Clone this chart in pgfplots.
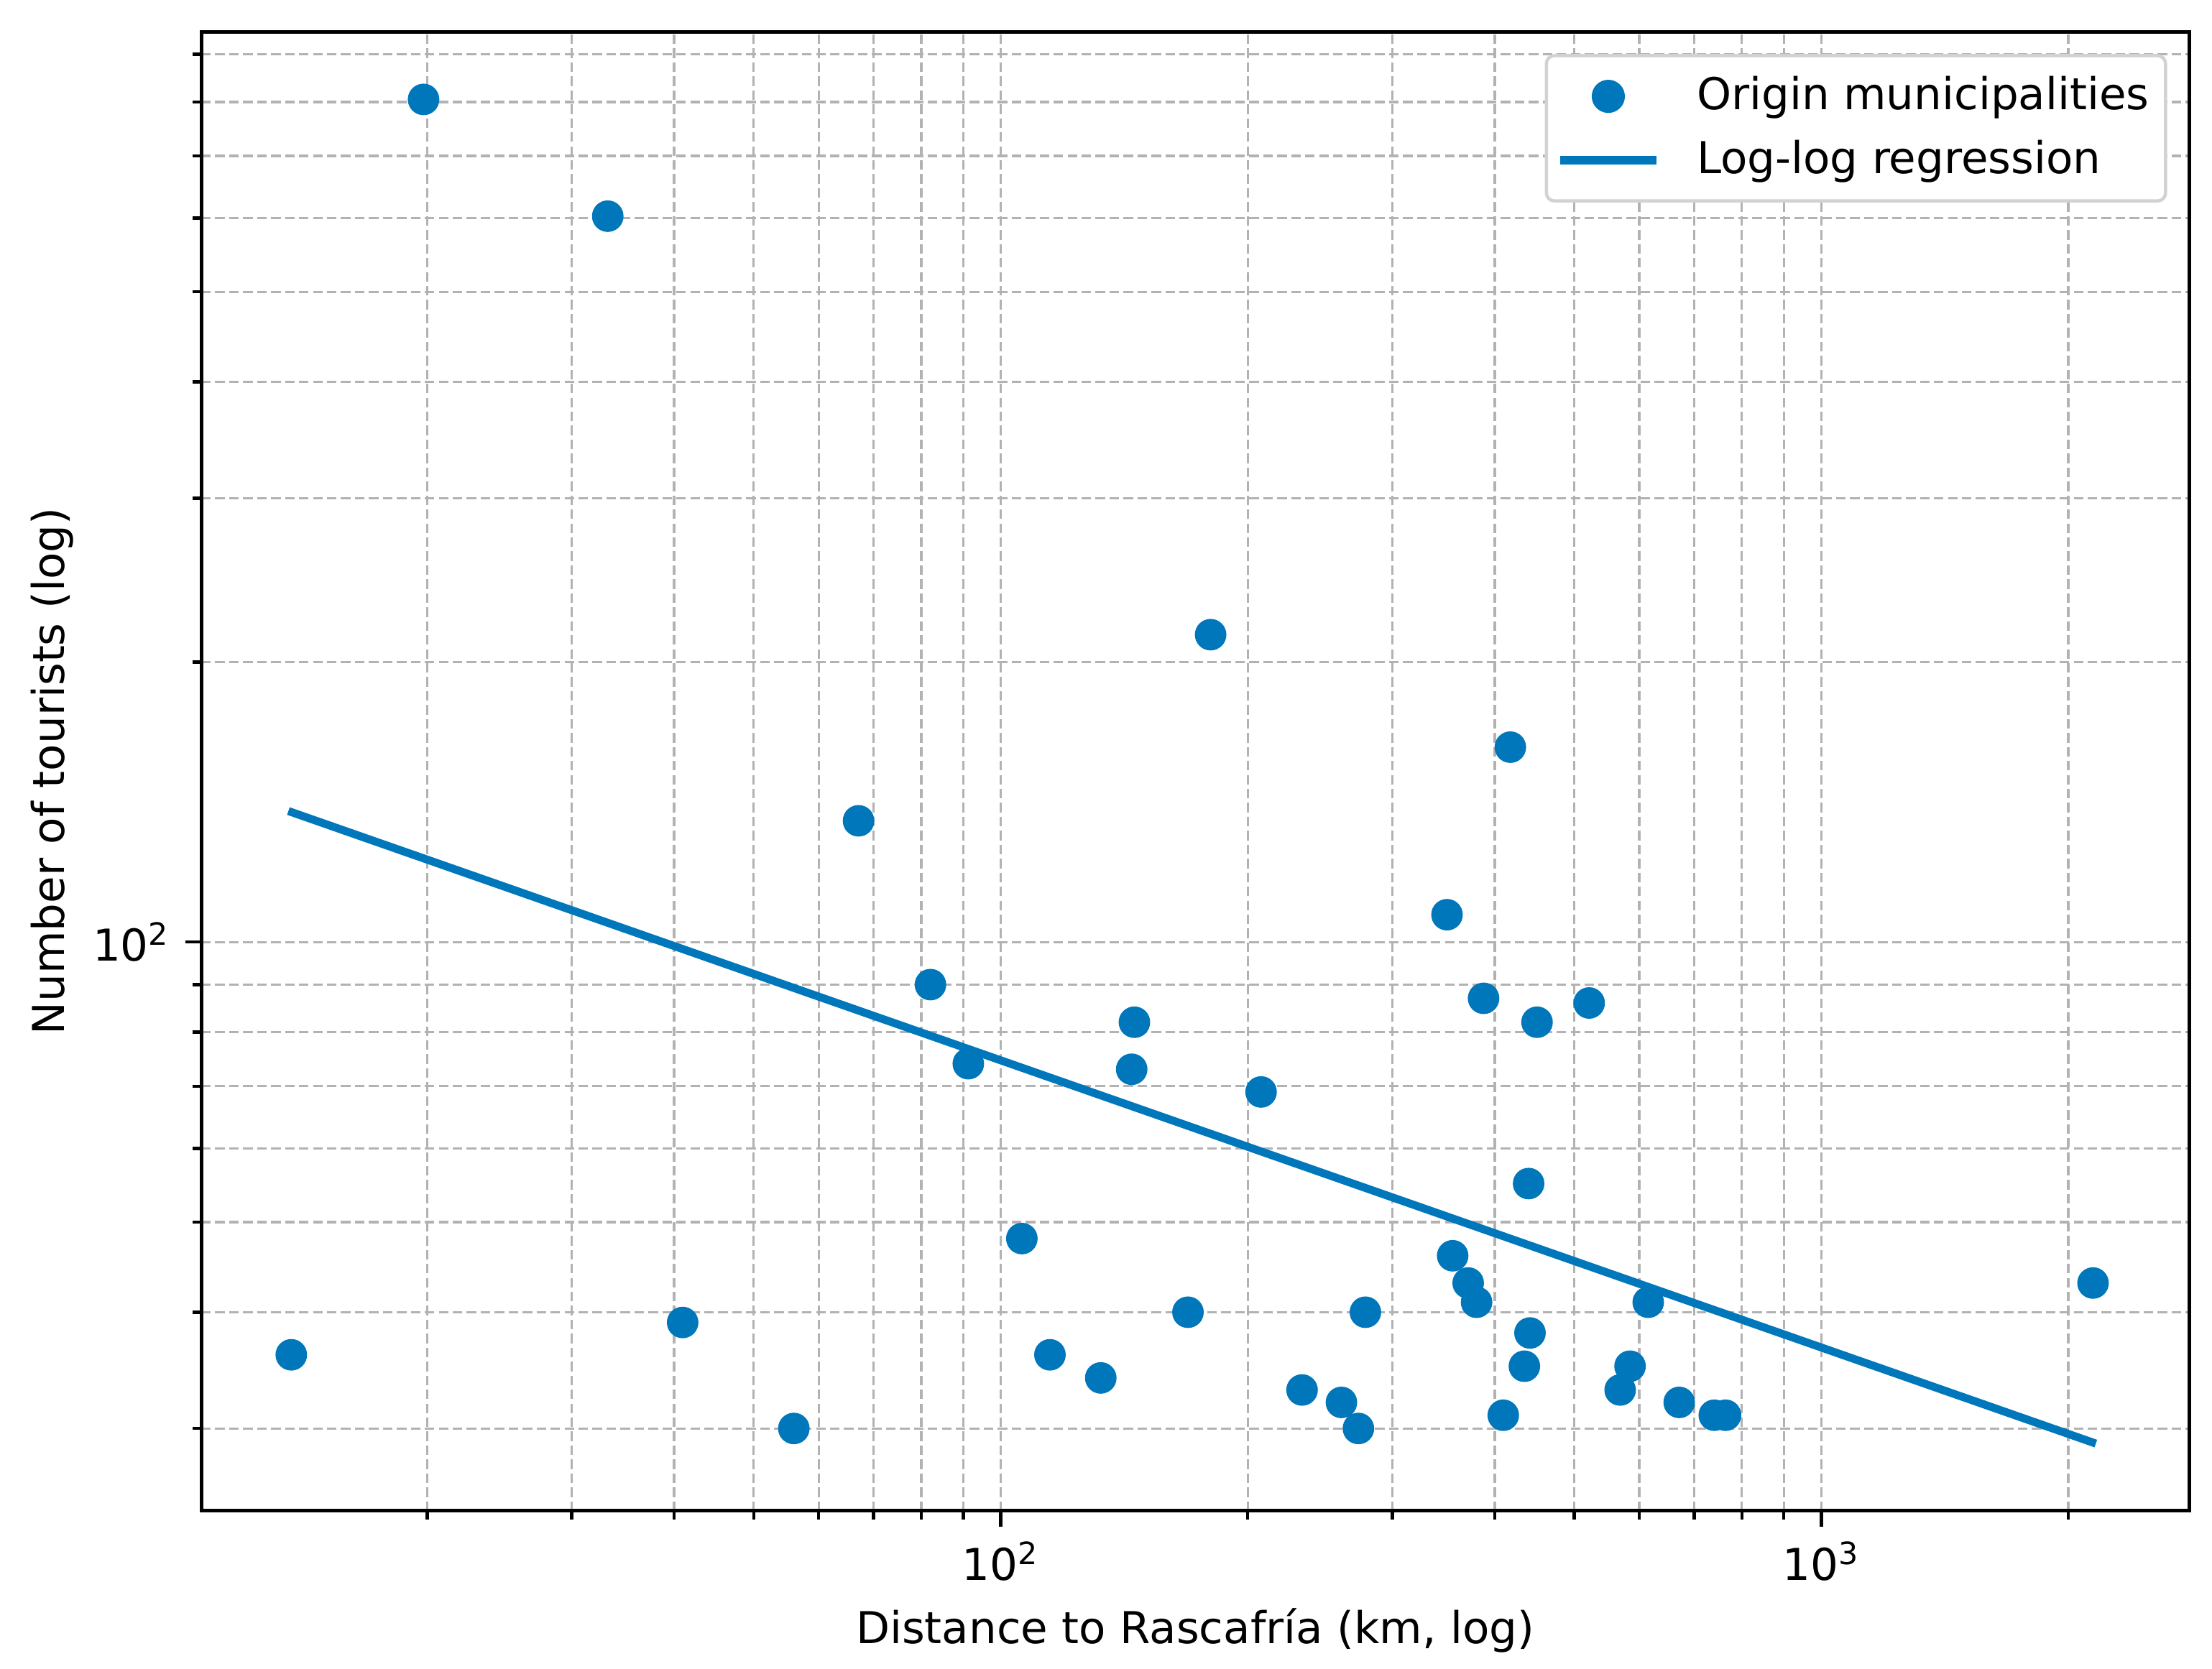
\documentclass[border=0pt]{standalone}
\usepackage{fontspec}
\setmainfont{DejaVu Sans}
\usepackage{pgfplots}
\pgfplotsset{compat=1.18}
\definecolor{ptblue}{RGB}{0,119,187}
\begin{document}
\fontsize{11}{13}\selectfont
\begin{tikzpicture}
\begin{axis}[
  name=ax,
  scale only axis,
  width=497.9pt, height=370.6pt,
  xmode=log, ymode=log,
  xmin=10.61, xmax=2806,
  ymin=24.46, ymax=952,
  xtick={100,1000},
  xticklabels={10\textsuperscript{2},10\textsuperscript{3}},
  ytick={100},
  yticklabels={10\textsuperscript{2}},
  minor xtick={20,30,40,50,60,70,80,90,200,300,400,500,600,700,800,900,2000},
  minor ytick={30,40,50,60,70,80,90,200,300,400,500,600,700,800,900},
  xtick pos=bottom, ytick pos=left,
  tick align=outside,
  major tick length=3.9pt,
  minor tick length=2.1pt,
  every tick/.style={black, line width=0.8pt},
  axis line style={line width=0.9pt},
  grid=both,
  major grid style={gray!60, line width=0.6pt, dash pattern=on 2.4pt off 1.1pt},
  minor grid style={gray!60, line width=0.6pt, dash pattern=on 2.4pt off 1.1pt},
  tick label style={font=\fontsize{11}{13}\selectfont},
  label style={font=\fontsize{11}{13}\selectfont},
  xlabel={Distance to Rascafría (km, log)},
  ylabel={Number of tourists (log)},
  xlabel style={at={(axis description cs:0.5,0)}, anchor=center, yshift=-29.9pt},
  ylabel style={at={([xshift=-37.3pt]axis description cs:0,0.5)}, anchor=center},
  legend cell align=left,
  legend style={at={(axis description cs:1,1)}, anchor=north east,
    xshift=-5.5pt, yshift=-5.6pt,
    draw=gray!35, line width=0.8pt, rounded corners=2pt,
    font=\fontsize{11}{13}\selectfont,
    inner xsep=2.5pt, inner ysep=3.6pt,
    nodes={inner sep=1.6pt},
    column sep=7.6pt,
    row sep=2.8pt},
]
\addplot[only marks, mark=*, mark size=3.75pt, ptblue, mark options={draw=none, fill=ptblue},
  legend image code/.code={\fill[ptblue] (12pt,0pt) circle (3.75pt);\path (0pt,0pt) (24pt,0pt);}]
  table {
x y
13.66 36
19.8 805
33.2 603
40.96 39
55.96 30
67.1 135
82.1 90
91.3 74
106.1 48
114.8 36
132.4 34
145.5 82
144.4 73
169.1 40
180.2 214
207.6 69
232.9 33
260.1 32
272.8 30
278.2 40
349.8 107
355.4 46
371.2 43
380.1 41
387.6 87
417.8 162
409.6 31
434.6 35
439.8 55
441.5 38
450.3 82
521.2 86
568.6 33
584.6 35
615.2 41
671.1 32
740.5 31
764.3 31
2143 43
};
\addlegendentry{Origin municipalities}
\addplot[ptblue, line width=2pt,
  legend image code/.code={\draw[ptblue, line width=2pt] (0pt,0pt) -- (24pt,0pt);}]
  table {
x y
13.55 138.3
2160 28.9
};
\addlegendentry{Log-log regression}
\end{axis}
\pgfresetboundingbox
\path ([xshift=-50.4pt,yshift=-39.42pt]ax.south west) rectangle ([xshift=503.64pt,yshift=378.54pt]ax.south west);
\end{tikzpicture}
\end{document}
